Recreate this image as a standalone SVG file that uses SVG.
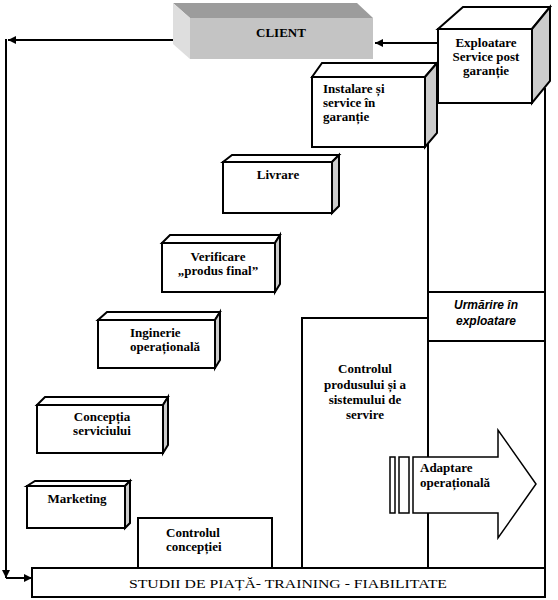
<svg xmlns="http://www.w3.org/2000/svg" width="558" height="600" viewBox="0 0 558 600">
<style>
.fr{fill:#fff;stroke:#000;stroke-width:2;stroke-linejoin:miter}
.sd{fill:#cccccc;stroke:#000;stroke-width:2}
.ln{fill:none;stroke:#000;stroke-width:2}
.t{font-family:"Liberation Serif","Times New Roman",serif;font-weight:bold;font-size:13px;fill:#000}
.c{text-anchor:middle}
.it{font-family:"Liberation Sans",Arial,sans-serif;font-weight:bold;font-style:italic;font-size:12px;text-anchor:middle;fill:#000}
</style>
<defs>
<marker id="ah" markerUnits="userSpaceOnUse" markerWidth="9" markerHeight="8" refX="8" refY="4" orient="auto">
<path d="M0,0 L8,4 L0,8 z" fill="#000"/>
</marker>
</defs>
<g id="connectors">
<line class="ln" x1="180" y1="40" x2="8" y2="40" marker-end="url(#ah)"/>
<line class="ln" x1="6" y1="39" x2="6" y2="578" marker-end="url(#ah)"/>
<line class="ln" x1="6" y1="578" x2="32" y2="578" marker-end="url(#ah)"/>
<line class="ln" x1="438" y1="43" x2="375" y2="43" marker-end="url(#ah)"/>
<line class="ln" x1="428" y1="142" x2="428" y2="568"/>
<line class="ln" x1="545" y1="88" x2="545" y2="568"/>
</g>
<g id="client">
<polygon points="173,3 357,3 373,18 190,18" fill="#9c9c9c"/>
<polygon points="173,3 190,18 190,59 173,44" fill="#dedede"/>
<rect x="190" y="18" width="183" height="41" fill="#c4c4c4"/>
<text class="t c" x="281" y="37">CLIENT</text>
</g>
<g id="exploatare">
<polygon class="fr" points="438,29 463,7 550,7 532,29"/>
<polygon class="sd" points="532,29 550,7 550,81 532,103"/>
<rect class="fr" x="438" y="29" width="94" height="74"/>
<text class="t c" x="486" y="47">Exploatare</text>
<text class="t c" x="486" y="61">Service post</text>
<text class="t c" x="486" y="75">garanție</text>
</g>
<g id="instalare">
<polygon class="fr" points="312,77 322,63 437,63 425,77"/>
<polygon class="sd" points="425,77 437,63 437,133 425,147"/>
<rect class="fr" x="312" y="77" width="113" height="70"/>
<text class="t" x="323" y="93">Instalare și</text>
<text class="t" x="323" y="107">service în</text>
<text class="t" x="323" y="121">garanție</text>
</g>
<g id="livrare">
<polygon class="fr" points="223,162 232,155 339,155 332,162"/>
<polygon class="sd" points="332,162 339,155 339,206 332,213"/>
<rect class="fr" x="223" y="162" width="109" height="51"/>
<text class="t c" x="278" y="179">Livrare</text>
</g>
<g id="verificare">
<polygon class="fr" points="162,243 170,235 280,235 275,243"/>
<polygon class="sd" points="275,243 280,235 280,284 275,292"/>
<rect class="fr" x="162" y="243" width="113" height="49"/>
<text class="t c" x="218" y="261">Verificare</text>
<text class="t c" x="218" y="275">„produs final”</text>
</g>
<g id="inginerie">
<polygon class="fr" points="98,320 107,312 220,312 215,320"/>
<polygon class="sd" points="215,320 220,312 220,360 215,368"/>
<rect class="fr" x="98" y="320" width="117" height="48"/>
<text class="t" x="130" y="337">Inginerie</text>
<text class="t" x="130" y="351">operațională</text>
</g>
<g id="conceptia">
<polygon class="fr" points="37,405 45,397 168,397 163,405"/>
<polygon class="sd" points="163,405 168,397 168,445 163,453"/>
<rect class="fr" x="37" y="405" width="126" height="48"/>
<text class="t c" x="102" y="421">Concepția</text>
<text class="t c" x="102" y="435">serviciului</text>
</g>
<g id="marketing">
<polygon class="fr" points="27,486 35,481 130,481 125,486"/>
<polygon class="sd" points="125,486 130,481 130,523 125,528"/>
<rect class="fr" x="27" y="486" width="98" height="42"/>
<text class="t c" x="77" y="503">Marketing</text>
</g>
<g id="controlul-conceptiei">
<rect class="fr" x="138" y="518" width="134" height="50"/>
<text class="t" x="166" y="537">Controlul</text>
<text class="t" x="166" y="551">concepției</text>
</g>
<g id="controlul-produsului">
<rect class="fr" x="302" y="318" width="126" height="250"/>
<text class="t c" x="365" y="373">Controlul</text>
<text class="t c" x="365" y="389">produsului și a</text>
<text class="t c" x="365" y="404">sistemului de</text>
<text class="t c" x="365" y="419">servire</text>
</g>
<g id="urmarire">
<rect class="fr" x="428" y="292" width="117" height="49"/>
<text class="it" x="486" y="309">Urmărire în</text>
<text class="it" x="486" y="325">exploatare</text>
</g>
<g id="adaptare">
<rect x="390" y="457" width="5" height="56" fill="#fff" stroke="#000" stroke-width="1.5"/>
<rect x="399" y="457" width="10" height="56" fill="#fff" stroke="#000" stroke-width="1.5"/>
<polygon points="413,457 498,457 498,430 536,484 498,538 498,513 413,513" fill="#fff" stroke="#000" stroke-width="1.5"/>
<text class="t" x="420" y="472">Adaptare</text>
<text class="t" x="420" y="487">operațională</text>
</g>
<g id="studii">
<rect class="fr" x="32" y="568" width="513" height="29"/>
<text x="288" y="588" text-anchor="middle" font-family="'Liberation Serif','Times New Roman',serif" font-size="13.5" textLength="318" lengthAdjust="spacingAndGlyphs">STUDII DE PIAȚĂ- TRAINING - FIABILITATE</text>
</g>
</svg>
